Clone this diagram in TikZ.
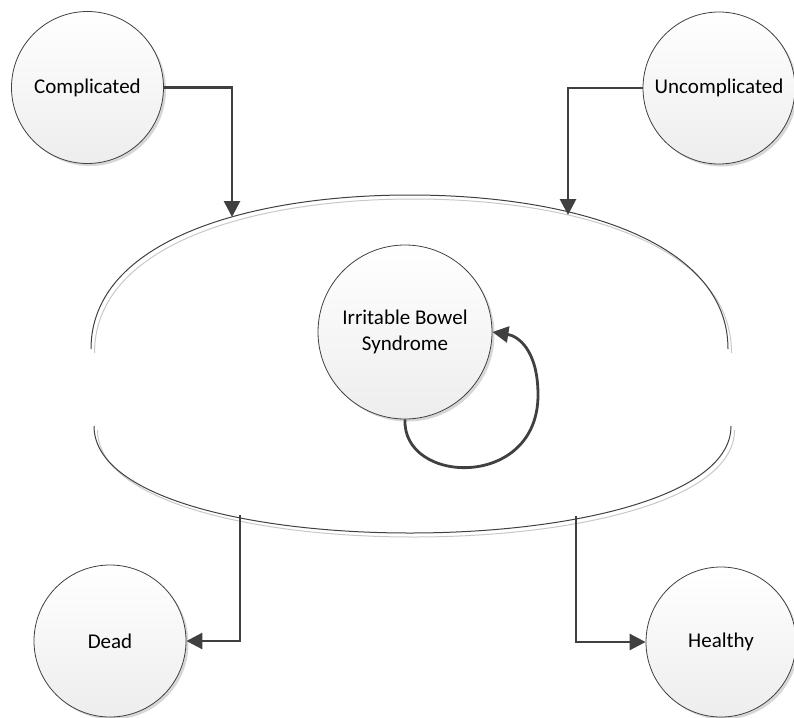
\documentclass[tikz,border=0pt]{standalone}
\usepackage{fontspec}
\setmainfont{Carlito}
\usetikzlibrary{arrows.meta,shadows}
\definecolor{edge}{HTML}{404040}
\definecolor{shade}{HTML}{C8C8C8}
\tikzset{
  state/.style={circle, draw=edge, line width=0.8pt, inner sep=0pt,
    top color=white, bottom color=black!7, align=center,
    font=\fontsize{21}{26}\selectfont,
    drop shadow={shadow xshift=2.5pt, shadow yshift=-2.5pt, opacity=.35, fill=black!45}},
  arr/.style={draw=edge, line width=2.8pt, -{Triangle[length=16pt,width=16pt]}},
  rim/.style={draw=edge, line width=1pt},
  rimshadow/.style={draw=shade, line width=1pt},
}
\begin{document}
\begin{tikzpicture}[x=1pt,y=-1pt]
\useasboundingbox (0,0) rectangle (794,717);
% container (ellipse with side gaps), shadow first
\begin{scope}[shift={(3.5,4)}]
\draw[rimshadow] (91,349) .. controls (91,240) and (250,195) .. (410,195) .. controls (570,195) and (728,240) .. (728,349);
\draw[rimshadow] (94,426) .. controls (94,497) and (250,533) .. (410,533) .. controls (570,533) and (731,497) .. (731,426);
\end{scope}
\draw[rim] (91,349) .. controls (91,240) and (250,195) .. (410,195) .. controls (570,195) and (728,240) .. (728,349);
\draw[rim] (94,426) .. controls (94,497) and (250,533) .. (410,533) .. controls (570,533) and (731,497) .. (731,426);

\node[state, minimum size=152pt] (comp) at (87.5,87.5) {Complicated};
\node[state, minimum size=152pt] (uncomp) at (719,88) {Uncomplicated};
\node[state, minimum size=174pt] (ibs) at (405,332) {Irritable Bowel\\Syndrome};
\node[state, minimum size=152pt] (dead) at (110,641) {Dead};
\node[state, minimum size=150pt] (healthy) at (721,642) {Healthy};

\coordinate (c1) at (232,217);
\coordinate (c2) at (568,215);
\coordinate (c3) at (240,515);
\coordinate (c4) at (576,516);

\draw[arr] (comp.east) -| (c1);
\draw[arr] (uncomp.west) -| (c2);
\draw[arr] (c3) |- (dead.east);
\draw[arr] (c4) |- (healthy.west);
\draw[arr] (ibs.south) .. controls (402,485) and (538,490) .. (538,395) .. controls (538,350) and (518,336) .. (ibs.east);
\end{tikzpicture}
\end{document}
